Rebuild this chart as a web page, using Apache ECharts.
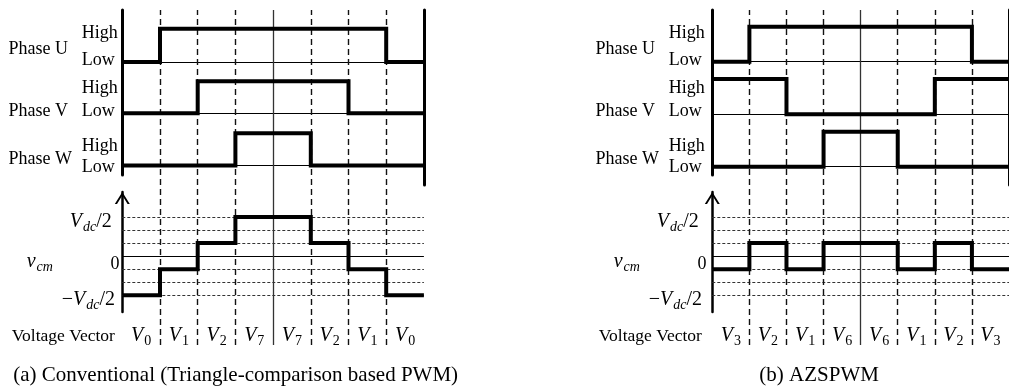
<!DOCTYPE html>
<html>
<head>
<meta charset="utf-8">
<script src="https://cdn.jsdelivr.net/npm/echarts@6/dist/echarts.min.js"></script>
<style>
  html, body { margin: 0; padding: 0; background: #fff; }
  #chart { width: 1009px; height: 391px; }
</style>
</head>
<body>
<div id="chart"></div>
<script>
// Switching states per segment of one carrier period (1 = High, 0 = Low)
const phaseU_conv = [0, 1, 1, 1, 1, 1, 1, 0];
const phaseV_conv = [0, 0, 1, 1, 1, 1, 0, 0];
const phaseW_conv = [0, 0, 0, 1, 1, 0, 0, 0];
// Common-mode voltage per segment, in units of Vdc/6
const vcm_conv = [-3, -1, 1, 3, 3, 1, -1, -3];
const vectors_conv = ['0', '1', '2', '7', '7', '2', '1', '0'];

const phaseU_azs = [0, 1, 1, 1, 1, 1, 1, 0];
const phaseV_azs = [1, 1, 0, 0, 0, 0, 1, 1];
const phaseW_azs = [0, 0, 0, 1, 1, 0, 0, 0];
const vcm_azs = [-1, 1, -1, 1, 1, -1, 1, -1];
const vectors_azs = ['3', '2', '1', '6', '6', '1', '2', '3'];

// Reference levels of the common-mode axis (units of Vdc/6) and segment boundaries
const vcmLevels = [-3, -2, -1, 1, 2, 3];
const boundaries = [1, 2, 3, 5, 6, 7];
const centre = 4;
const phaseNames = ['Phase U', 'Phase V', 'Phase W'];

const SEG = 8;
const W = 301.6;
const SERIF = 'Liberation Serif';

const panels = [
  {
    axisX: 122.3, textX: 0,
    rows: [[28.7, 62], [81.3, 113.3], [133.3, 165.5]],
    phases: [phaseU_conv, phaseV_conv, phaseW_conv],
    vcm: vcm_conv, vectors: vectors_conv,
    caption: '(a) Conventional (Triangle-comparison based PWM)', captionX: 13.3
  },
  {
    axisX: 712.3, textX: 587,
    rows: [[26.7, 61.7], [79, 114.3], [131.7, 166.7]],
    phases: [phaseU_azs, phaseV_azs, phaseW_azs],
    vcm: vcm_azs, vectors: vectors_azs,
    caption: '(b) AZSPWM', captionX: 759.3
  }
];

const nameY = [49.3, 111, 159.3];
const highY = [33.3, 88.3, 146];
const lowY = [60.7, 111, 167.5];

const CHEVRON = 'path://M0,12 L7.5,0 L15,12 L12.8,12 L7.5,3.6 L2.2,12 Z';

const grid = [], xAxis = [], yAxis = [], series = [], graphic = [];

const off = { show: false };
function lineOnly(extra) {
  return Object.assign({
    show: true,
    axisTick: off, axisLabel: off, splitLine: off
  }, extra);
}

function addGrid(left, top, height, xa, ya) {
  const gi = grid.length;
  grid.push({ left: left, top: top, width: W, height: height });
  xAxis.push(Object.assign({ gridIndex: gi, type: 'value', min: 0, max: SEG, show: false }, xa || {}));
  yAxis.push(Object.assign({ gridIndex: gi, type: 'value', min: 0, max: 1, show: false }, ya || {}));
  return gi;
}

function stepData(arr) {
  const pts = arr.map((v, i) => [i, v]);
  pts.push([arr.length, arr[arr.length - 1]]);
  return pts;
}

function stepSeries(gi, arr) {
  return {
    type: 'line', xAxisIndex: gi, yAxisIndex: gi,
    data: stepData(arr), step: 'end', symbol: 'none', clip: false,
    silent: true, animation: false, z: 5,
    lineStyle: { color: '#000', width: 4, join: 'miter' }
  };
}

const richMath = {
  v: { fontFamily: SERIF, fontStyle: 'italic', fontSize: 20, lineHeight: 20, color: '#000' },
  s: { fontFamily: SERIF, fontStyle: 'italic', fontSize: 14, lineHeight: 12, padding: [10, 0, 0, 1], color: '#000' },
  d: { fontFamily: SERIF, fontSize: 14, lineHeight: 12, padding: [10, 0, 0, 1], color: '#000' },
  n: { fontFamily: SERIF, fontSize: 20, lineHeight: 20, color: '#000' }
};

function txt(x, y, text, opts) {
  graphic.push({
    type: 'text', x: x, y: y, silent: true,
    style: Object.assign({
      text: text, fontFamily: SERIF, fontSize: 18, fill: '#000',
      align: 'left', verticalAlign: 'middle'
    }, opts || {})
  });
}

panels.forEach(p => {
  const x0 = p.axisX, tx = p.textX;

  // three switching-state rows
  p.rows.forEach((r, i) => {
    const gi = addGrid(x0, r[0], r[1] - r[0],
      lineOnly({ axisLine: { show: true, onZero: false, lineStyle: { color: '#000', width: 1 } } }));
    series.push(stepSeries(gi, p.phases[i]));
    txt(tx + 8.5, nameY[i], phaseNames[i]);
    txt(tx + 81.7, highY[i], 'High');
    txt(tx + 81.7, lowY[i], 'Low');
  });

  // common-mode voltage
  const gv = addGrid(x0, 217, 78.2, null, { min: -3, max: 3 });
  series.push({
    type: 'line', xAxisIndex: gv, yAxisIndex: gv, data: [], silent: true, animation: false, z: 1,
    markLine: {
      silent: true, symbol: 'none', animation: false, label: { show: false },
      data: vcmLevels.map(v => ({ yAxis: v, lineStyle: { type: [3, 2], color: '#333', width: 1 } }))
        .concat([{ yAxis: 0, lineStyle: { type: 'solid', color: '#000', width: 1.2 } }])
    }
  });
  series.push(stepSeries(gv, p.vcm));

  // vertical axis of the common-mode plot, with arrow head
  addGrid(x0, 192, 120, null, lineOnly({
    axisLine: {
      show: true, onZero: false,
      symbol: ['none', CHEVRON], symbolSize: [15, 12], symbolOffset: [0, -6],
      lineStyle: { color: '#000', width: 2.5 }
    }
  }));

  // frame rails of the switching-state plots
  addGrid(x0, 10, 165, null, lineOnly({
    axisLine: { show: true, onZero: false, lineStyle: { color: '#000', width: 3 } }
  }));
  addGrid(x0, 10, 175, null, lineOnly({
    position: 'right',
    axisLine: { show: true, onZero: false, lineStyle: { color: '#000', width: 3 } }
  }));

  // segment boundaries
  const gl = addGrid(x0, 10, 335);
  series.push({
    type: 'line', xAxisIndex: gl, yAxisIndex: gl, data: [], silent: true, animation: false, z: 0,
    markLine: {
      silent: true, symbol: 'none', animation: false, label: { show: false },
      data: boundaries.map(b => ({ xAxis: b, lineStyle: { type: [6, 4], color: '#111', width: 1.4 } }))
        .concat([{ xAxis: centre, lineStyle: { type: 'solid', color: '#333', width: 1.3 } }])
    }
  });

  // voltage vector labels
  addGrid(x0, 316, 10, {
    type: 'category', data: p.vectors, boundaryGap: true, show: true, min: null, max: null,
    axisLine: off, axisTick: off, splitLine: off,
    axisLabel: {
      show: true, margin: 0, interval: 0,
      formatter: v => '{v|V}{d|' + v + '}',
      rich: richMath
    }
  });

  // axis annotations
  txt(tx + 111.7, 222, '{v|V}{s|dc}{n|/2}', { align: 'right', rich: richMath });
  txt(tx + 115, 264.5, '0', { align: 'center' });
  txt(tx + 115, 300, '{n|\u2212}{v|V}{s|dc}{n|/2}', { align: 'right', rich: richMath });
  txt(tx + 26.7, 262, '{v|v}{s|cm}', { rich: richMath });
  txt(tx + 11.7, 336.7, 'Voltage Vector', { fontSize: 17.5 });
  txt(p.captionX, 375, p.caption, { fontSize: 21 });
});

const chart = echarts.init(document.getElementById('chart'), null, { renderer: 'canvas' });
chart.setOption({
  animation: false,
  backgroundColor: '#fff',
  grid: grid, xAxis: xAxis, yAxis: yAxis, series: series, graphic: graphic
});
</script>
</body>
</html>
